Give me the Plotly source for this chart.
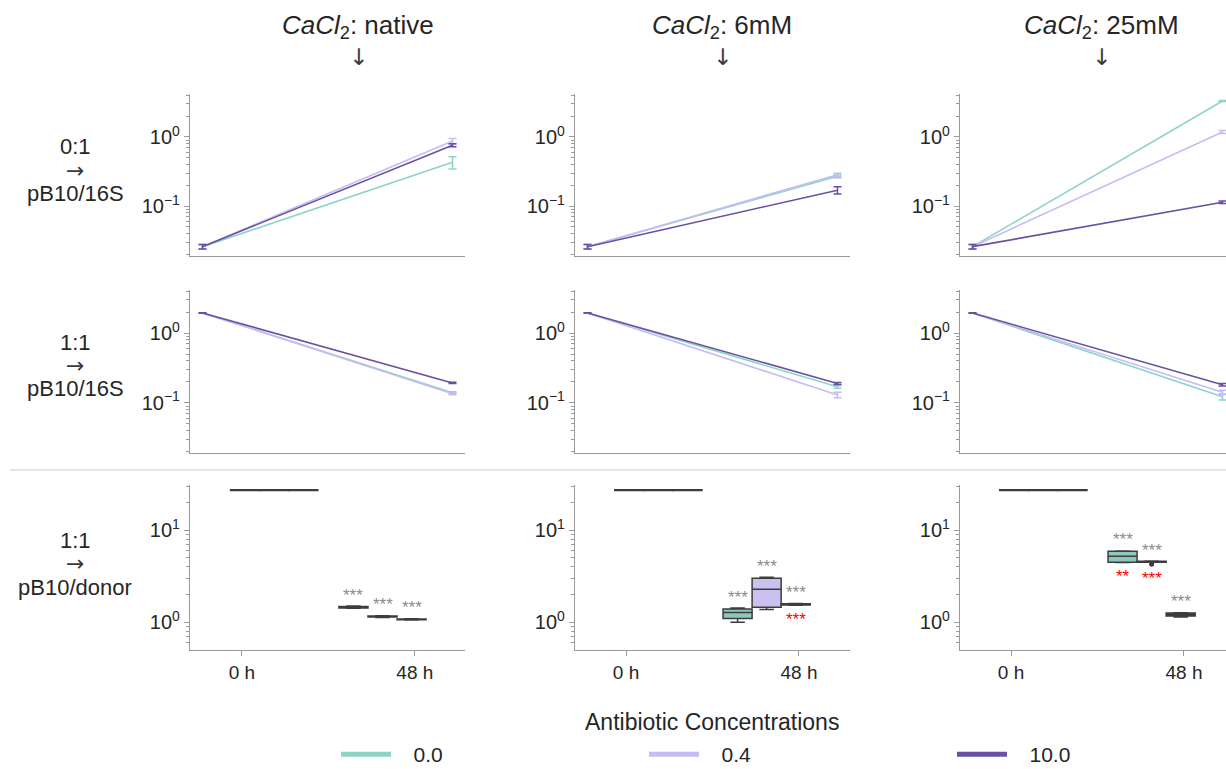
import plotly.graph_objects as go
from plotly.subplots import make_subplots
import math

W, H = 1226, 769

# ---------------- data ----------------
conc_labels = ["0.0", "0.4", "10.0"]
cacl_labels = ["native", "6mM", "25mM"]
row_top = ["0:1", "1:1", "1:1"]
row_bottom = ["pB10/16S", "pB10/16S", "pB10/donor"]
time_h = [0, 48]
time_ticks = ["0 h", "48 h"]

# row 1 (0:1 -> pB10/16S): [value at 0 h, value at 48 h] per concentration
r1_native = [[0.026, 0.43], [0.026, 0.87], [0.026, 0.76]]
r1_6mM = [[0.026, 0.27], [0.026, 0.285], [0.026, 0.17]]
r1_25mM = [[0.026, 3.3], [0.026, 1.18], [0.026, 0.114]]
r1_native_err = [[0.002, 0.085], [0.002, 0.08], [0.002, 0.04]]
r1_6mM_err = [[0.002, 0.012], [0.002, 0.014], [0.002, 0.02]]
r1_25mM_err = [[0.002, 0.05], [0.002, 0.06], [0.002, 0.005]]

# row 2 (1:1 -> pB10/16S)
r2_native = [[1.95, 0.14], [1.95, 0.135], [1.95, 0.193]]
r2_6mM = [[1.95, 0.17], [1.95, 0.13], [1.95, 0.19]]
r2_25mM = [[1.95, 0.122], [1.95, 0.142], [1.95, 0.182]]
r2_native_err = [[0.01, 0.004], [0.01, 0.004], [0.01, 0.004]]
r2_6mM_err = [[0.01, 0.008], [0.01, 0.012], [0.01, 0.006]]
r2_25mM_err = [[0.01, 0.012], [0.01, 0.01], [0.01, 0.008]]

# row 3 (1:1 -> pB10/donor): box statistics
box0h_q1 = [27.0, 27.0, 27.0]
box0h_med = [27.2, 27.2, 27.2]
box0h_q3 = [27.4, 27.4, 27.4]
box0h_lo = [26.9, 26.9, 26.9]
box0h_hi = [27.5, 27.5, 27.5]

box48_native_q1 = [1.43, 1.14, 1.07]
box48_native_med = [1.46, 1.16, 1.08]
box48_native_q3 = [1.49, 1.17, 1.09]
box48_native_lo = [1.42, 1.13, 1.06]
box48_native_hi = [1.50, 1.18, 1.095]

box48_6mM_q1 = [1.10, 1.46, 1.54]
box48_6mM_med = [1.28, 2.28, 1.57]
box48_6mM_q3 = [1.40, 3.00, 1.59]
box48_6mM_lo = [1.00, 1.38, 1.53]
box48_6mM_hi = [1.43, 3.08, 1.60]

box48_25mM_q1 = [4.49, 4.50, 1.17]
box48_25mM_med = [5.21, 4.55, 1.22]
box48_25mM_q3 = [5.90, 4.60, 1.26]
box48_25mM_lo = [4.45, 4.50, 1.14]
box48_25mM_hi = [5.95, 4.62, 1.27]

outliers_48 = [[[], [], []], [[], [], []], [[], [4.27], []]]

sig_gray_48 = [["***", "***", "***"], ["***", "***", "***"], ["***", "***", "***"]]
sig_red_48 = [["", "", ""], ["", "", "***"], ["**", "***", ""]]

# ---------------- styling ----------------
line_colors = ["#8dd3c7", "#c6bcf3", "#6a4fa3"]
box_fills = ["#8cc8bb", "#cbc1ee", "#6e589e"]
box_edge = "#3d3d3d"
axis_col = "#9a9a9a"
txt_col = "#262626"
FONT = "Liberation Sans, Arial, sans-serif"
ARROW_FONT = "DejaVu Sans"

rows1 = [r1_native, r1_6mM, r1_25mM]
rows1_err = [r1_native_err, r1_6mM_err, r1_25mM_err]
rows2 = [r2_native, r2_6mM, r2_25mM]
rows2_err = [r2_native_err, r2_6mM_err, r2_25mM_err]
b48 = [
    (box48_native_q1, box48_native_med, box48_native_q3, box48_native_lo, box48_native_hi),
    (box48_6mM_q1, box48_6mM_med, box48_6mM_q3, box48_6mM_lo, box48_6mM_hi),
    (box48_25mM_q1, box48_25mM_med, box48_25mM_q3, box48_25mM_lo, box48_25mM_hi),
]
b0 = (box0h_q1, box0h_med, box0h_q3, box0h_lo, box0h_hi)

fig = make_subplots(rows=3, cols=3)

x_dom = [(190 / W, 465 / W), (575 / W, 850 / W), (960 / W, 1.0)]
y_pix = [(94, 256), (290, 453), (485, 650)]
y_dom = [(1 - b / H, 1 - t / H) for t, b in y_pix]

line_xrange = [[-2.4, 50.4], [-2.4, 50.4], [-2.4, 48.67]]
box_xrange = [[-0.30, 1.29], [-0.295, 1.295], [-0.295, 1.243]]
group_centers = [0.187, 0.813]
box_w = 0.168
offsets = [-box_w, 0.0, box_w]

# line rows
for r, (rdata, rerr) in enumerate([(rows1, rows1_err), (rows2, rows2_err)], start=1):
    for c in range(3):
        for k in range(3):
            fig.add_trace(go.Scatter(
                x=time_h, y=rdata[c][k], mode="lines",
                line=dict(color=line_colors[k], width=1.6),
                error_y=dict(type="data", array=rerr[c][k], color=line_colors[k],
                             thickness=1.5, width=4),
                showlegend=False, hoverinfo="skip"),
                row=r, col=c + 1)

# box row
annotations = []
for c in range(3):
    for g, stats in enumerate([b0, b48[c]]):
        q1, med, q3, lo, hi = stats
        for k in range(3):
            pos = group_centers[g] + offsets[k]
            fig.add_trace(go.Box(
                x=[pos], q1=[q1[k]], median=[med[k]], q3=[q3[k]],
                lowerfence=[lo[k]], upperfence=[hi[k]], orientation="v",
                width=box_w, fillcolor=box_fills[k],
                line=dict(color=box_edge, width=1.5), whiskerwidth=0.5,
                boxpoints=False, showlegend=False, hoverinfo="skip"),
                row=3, col=c + 1)
            if g == 1:
                outs = outliers_48[c][k]
                if outs:
                    fig.add_trace(go.Scatter(
                        x=[pos] * len(outs), y=outs, mode="markers",
                        marker=dict(color=box_edge, size=5),
                        showlegend=False, hoverinfo="skip"), row=3, col=c + 1)
                idx = 6 + c + 1
                xref = "x" + str(idx)
                yref = "y" + str(idx)
                annotations.append(dict(
                    x=pos, y=math.log10(hi[k]), xref=xref, yref=yref,
                    text=sig_gray_48[c][k], showarrow=False, yanchor="middle",
                    yshift=11, font=dict(family=FONT, size=17, color="#8c8c8c")))
                if sig_red_48[c][k]:
                    low = min([lo[k]] + outs)
                    annotations.append(dict(
                        x=pos, y=math.log10(low), xref=xref, yref=yref,
                        text=sig_red_48[c][k], showarrow=False, yanchor="middle",
                        yshift=-14, font=dict(family=FONT, size=17, color="#ff0000")))

# legend dummy traces, one legend per entry so each can sit where the reference has it
legend_names = ["legend", "legend2", "legend3"]
legend_x_px = [336, 644, 952]
for k in range(3):
    fig.add_trace(go.Scatter(x=[None], y=[None], mode="lines",
                             line=dict(color=line_colors[k], width=5),
                             name="\u00a0\u00a0\u00a0" + conc_labels[k], showlegend=True,
                             legend=legend_names[k]), row=1, col=1)

# axes
for r in range(1, 4):
    for c in range(1, 4):
        idx = (r - 1) * 3 + c
        xa = "xaxis" + ("" if idx == 1 else str(idx))
        ya = "yaxis" + ("" if idx == 1 else str(idx))
        common = dict(showgrid=False, zeroline=False, showline=True,
                      linecolor=axis_col, linewidth=1.3)
        if r < 3:
            fig.layout[xa].update(domain=x_dom[c - 1], range=line_xrange[c - 1],
                                  showticklabels=False, ticks="", **common)
            fig.layout[ya].update(domain=y_dom[r - 1], type="log", range=[-1.72, 0.62],
                                  tickvals=[0.1, 1], ticktext=["10<sup>−1</sup>", "10<sup>0</sup>"],
                                  ticks="outside", ticklen=5, tickcolor=axis_col,
                                  minor=dict(ticks="outside", ticklen=3, tickcolor=axis_col,
                                             dtick="D1"),
                                  tickfont=dict(family=FONT, size=20, color=txt_col), **common)
        else:
            fig.layout[xa].update(domain=x_dom[c - 1], range=box_xrange[c - 1],
                                  tickvals=[0, 1], ticktext=time_ticks,
                                  ticks="outside", ticklen=5, tickcolor=axis_col,
                                  tickfont=dict(family=FONT, size=19, color=txt_col), **common)
            fig.layout[ya].update(domain=y_dom[r - 1], type="log", range=[-0.30, 1.49],
                                  tickvals=[1, 10], ticktext=["10<sup>0</sup>", "10<sup>1</sup>"],
                                  ticks="outside", ticklen=5, tickcolor=axis_col,
                                  minor=dict(ticks="outside", ticklen=3, tickcolor=axis_col,
                                             dtick="D1"),
                                  tickfont=dict(family=FONT, size=20, color=txt_col), **common)

# column titles + arrows
col_centers = [358, 722, 1101]
for c in range(3):
    annotations.append(dict(
        x=col_centers[c] / W, y=1 - 27 / H, xref="paper", yref="paper",
        text="<i>CaCl</i><sub>2</sub>: " + cacl_labels[c],
        showarrow=False, xanchor="center", yanchor="middle",
        font=dict(family=FONT, size=26, color=txt_col)))
    annotations.append(dict(
        x=col_centers[c] / W, y=1 - 57 / H, xref="paper", yref="paper",
        text="↓", showarrow=False, xanchor="center", yanchor="middle",
        font=dict(family=ARROW_FONT, size=23, color="#3a3a3a")))

# row labels
row_centers = [170, 365, 563]
for r in range(3):
    cy = row_centers[r]
    annotations.append(dict(
        x=75 / W, y=1 - (cy - 23) / H, xref="paper", yref="paper",
        text=row_top[r], showarrow=False, xanchor="center", yanchor="middle",
        font=dict(family=FONT, size=22, color=txt_col)))
    annotations.append(dict(
        x=75 / W, y=1 - cy / H, xref="paper", yref="paper",
        text="→", showarrow=False, xanchor="center", yanchor="middle",
        font=dict(family=ARROW_FONT, size=22, color="#3a3a3a")))
    annotations.append(dict(
        x=75 / W, y=1 - (cy + 24) / H, xref="paper", yref="paper",
        text=row_bottom[r], showarrow=False, xanchor="center", yanchor="middle",
        font=dict(family=FONT, size=22, color=txt_col)))

# legend title
annotations.append(dict(
    x=712 / W, y=1 - 722 / H, xref="paper", yref="paper",
    text="Antibiotic Concentrations", showarrow=False, xanchor="center", yanchor="middle",
    font=dict(family=FONT, size=23, color=txt_col)))

legend_common = dict(orientation="h", xanchor="left", y=-6 / H, yanchor="bottom", itemwidth=50,
                     font=dict(family=FONT, size=21, color=txt_col), bgcolor="rgba(0,0,0,0)")

fig.update_layout(
    width=W, height=H, margin=dict(l=0, r=0, t=0, b=0, autoexpand=False),
    paper_bgcolor="white", plot_bgcolor="white",
    boxmode="overlay",
    annotations=annotations,
    shapes=[dict(type="line", xref="paper", yref="paper", x0=10 / W, x1=1.0,
                 y0=1 - 470 / H, y1=1 - 470 / H, line=dict(color="#cccccc", width=1.2))],
    legend=dict(x=legend_x_px[0] / W, **legend_common),
    legend2=dict(x=legend_x_px[1] / W, **legend_common),
    legend3=dict(x=legend_x_px[2] / W, **legend_common),
    font=dict(family=FONT, color=txt_col),
)

fig.write_html("out.html")
